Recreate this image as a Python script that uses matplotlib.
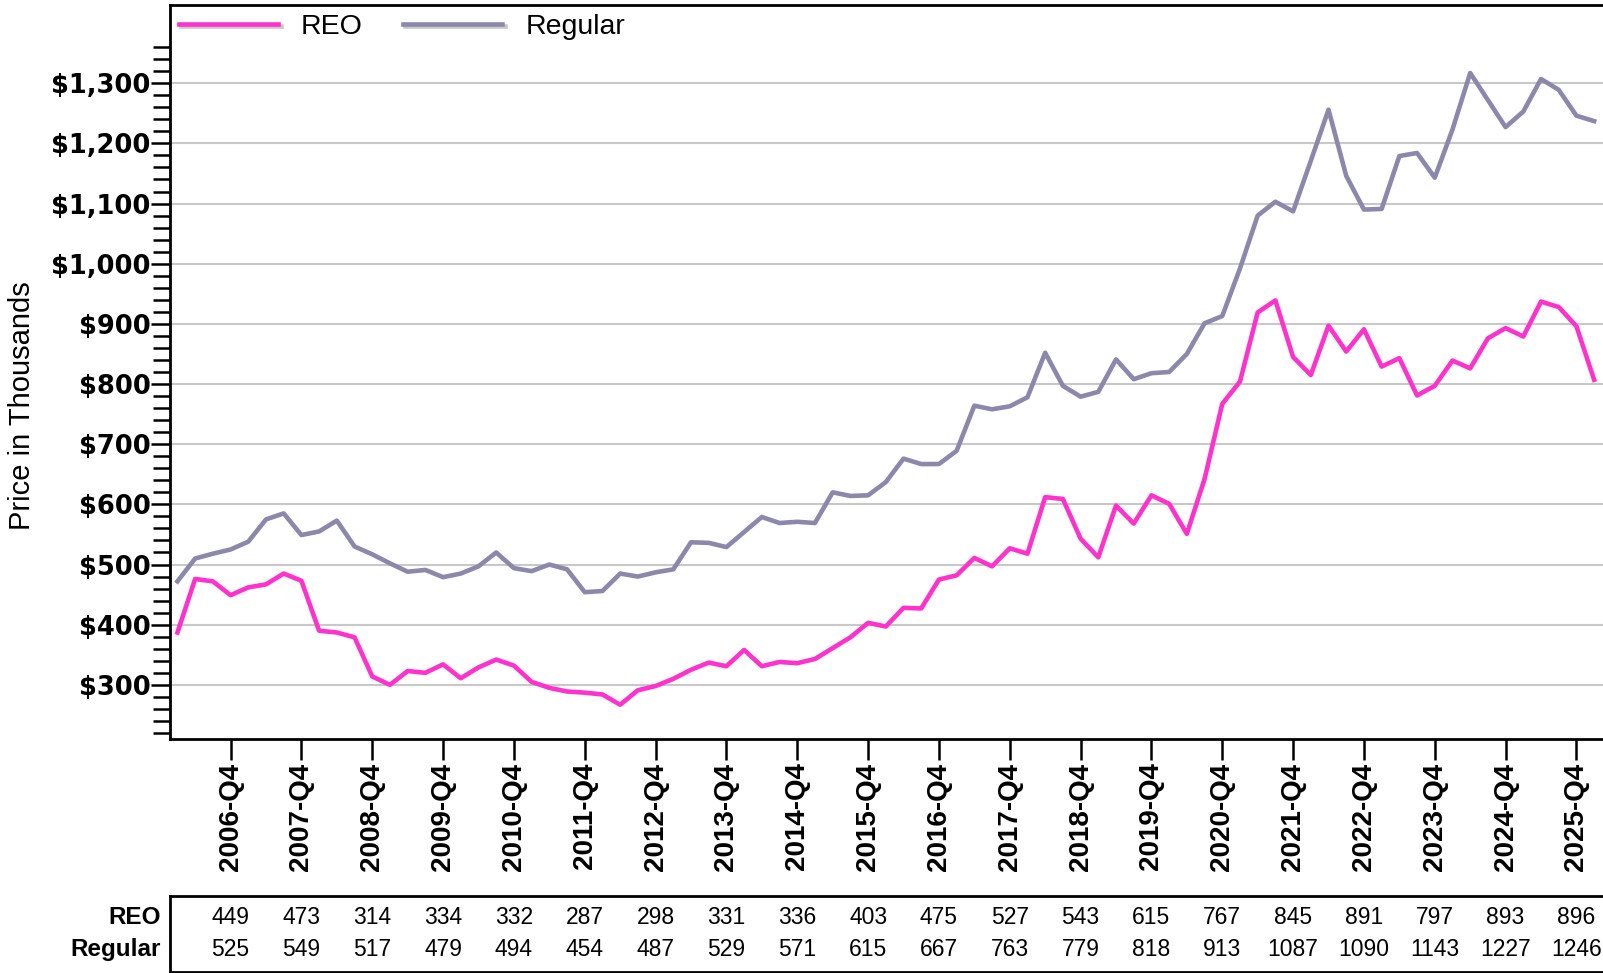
import numpy as np
import matplotlib
matplotlib.use("Agg")
import matplotlib.pyplot as plt
from matplotlib.lines import Line2D
from matplotlib.ticker import FixedLocator, FuncFormatter
import matplotlib.patheffects as pe

plt.rcParams['font.family'] = ['Liberation Sans', 'DejaVu Sans']

# quarterly median prices (thousands), 2006-Q1 .. 2026-Q1
quarters = [f"{y}-Q{q}" for y in range(2006, 2027) for q in range(1, 5)][:81]

reo = [387, 476, 472, 449, 462, 467, 485, 473, 390, 387, 379, 314, 300, 323, 320, 334,
       311, 329, 342, 332, 305, 295, 289, 287, 284, 267, 291, 298, 310, 325, 337, 331,
       358, 331, 338, 336, 343, 361, 379, 403, 397, 428, 427, 475, 482, 511, 497, 527,
       518, 612, 609, 543, 512, 598, 568, 615, 601, 551, 642, 767, 804, 919, 939, 845,
       815, 897, 854, 891, 829, 843, 781, 797, 839, 826, 876, 893, 879, 937, 928, 896,
       807]

regular = [472, 510, 518, 525, 538, 575, 585, 549, 555, 573, 530, 517, 502, 488, 491, 479,
           485, 497, 520, 494, 489, 500, 492, 454, 456, 485, 480, 487, 492, 537, 536, 529,
           554, 579, 569, 571, 569, 620, 614, 615, 637, 676, 667, 667, 689, 764, 758, 763,
           778, 852, 797, 779, 787, 841, 808, 818, 820, 850, 901, 913, 992, 1080, 1103, 1087,
           1171, 1256, 1146, 1090, 1091, 1179, 1184, 1143, 1223, 1317, 1272, 1227, 1253, 1307, 1289, 1246,
           1237]

# Q4 summary table
table_labels = ["2006-Q4", "2007-Q4", "2008-Q4", "2009-Q4", "2010-Q4", "2011-Q4", "2012-Q4",
                "2013-Q4", "2014-Q4", "2015-Q4", "2016-Q4", "2017-Q4", "2018-Q4", "2019-Q4",
                "2020-Q4", "2021-Q4", "2022-Q4", "2023-Q4", "2024-Q4", "2025-Q4"]
table_reo = [449, 473, 314, 334, 332, 287, 298, 331, 336, 403, 475, 527, 543, 615,
             767, 845, 891, 797, 893, 896]
table_regular = [525, 549, 517, 479, 494, 454, 487, 529, 571, 615, 667, 763, 779, 818,
                 913, 1087, 1090, 1143, 1227, 1246]

reo_color = "#ff33cc"
reg_color = "#8c88ac"

W, H = 1603, 973
fig = plt.figure(figsize=(W / 100, H / 100), dpi=100)

ax = fig.add_axes([170 / W, 1 - 739 / H, 1 - 170 / W, (739 - 5) / H])
x = np.arange(len(quarters))
ax.plot(x, reo, color=reo_color, lw=3.3)
ax.plot(x, regular, color=reg_color, lw=3.3)

ax.set_xlim(-0.42, 80.5)
ax.set_ylim(210, 1430)

# axes styling
for s in ["left", "top", "bottom"]:
    ax.spines[s].set_linewidth(2)
    ax.spines[s].set_color("black")
ax.spines["right"].set_visible(False)

ax.yaxis.set_major_locator(FixedLocator(np.arange(300, 1301, 100)))
ax.yaxis.set_minor_locator(FixedLocator(np.arange(220, 1361, 20)))
ax.yaxis.set_major_formatter(FuncFormatter(lambda v, p: f"${v:,.0f}"))
ax.tick_params(axis="y", which="major", length=14, width=1.8, pad=0)
ax.tick_params(axis="y", which="minor", length=12, width=1.8)
for t in ax.get_yticklabels():
    t.set_fontweight("bold")
    t.set_fontsize(18.5)
    t.set_family("DejaVu Sans")
ax.grid(axis="y", which="major", color="#c8c8c8", lw=1.5)
ax.set_axisbelow(True)

q4_pos = [quarters.index(q) for q in table_labels]
ax.set_xticks(q4_pos)
ax.set_xticklabels(table_labels, rotation=90, fontsize=20, fontweight="bold", va="top")
ax.tick_params(axis="x", length=15, width=1.8, pad=2)

fig.text(22.5 / W, 1 - 406 / H, "Price in Thousands", rotation=90, ha="center",
         va="center", fontsize=21)

# legend with drop shadow on the handles
shadow = [pe.SimpleLineShadow(offset=(2, -2), shadow_color="#c8c8c8", alpha=1), pe.Normal()]
handles = [Line2D([], [], color=reo_color, lw=3.3, path_effects=shadow),
           Line2D([], [], color=reg_color, lw=3.3, path_effects=shadow)]
ax.legend(handles, ["REO", "Regular"], loc="upper left", bbox_to_anchor=(0, 1), ncol=2,
          frameon=False, fontsize=20.5, handlelength=3.5, handletextpad=0.8,
          columnspacing=1.4, borderaxespad=0.1, borderpad=0.2)

# data table below the chart
axt = fig.add_axes([170 / W, 1.5 / H, 1 - 170 / W, (971.5 - 896) / H])
axt.set_xlim(ax.get_xlim())
axt.set_ylim(0, 1)
axt.set_xticks([])
axt.set_yticks([])
for s in ["left", "top", "bottom"]:
    axt.spines[s].set_linewidth(2)
axt.spines["right"].set_visible(False)

for pos, r, g in zip(q4_pos, table_reo, table_regular):
    axt.text(pos, 0.71, str(r), ha="center", va="center", fontsize=16.5)
    axt.text(pos, 0.285, str(g), ha="center", va="center", fontsize=16.5)
axt.text(-0.0066, 0.71, "REO", transform=axt.transAxes, ha="right", va="center",
         fontsize=17.5, fontweight="bold")
axt.text(-0.0066, 0.285, "Regular", transform=axt.transAxes, ha="right", va="center",
         fontsize=17.5, fontweight="bold")

fig.savefig("out.png", dpi=100)
